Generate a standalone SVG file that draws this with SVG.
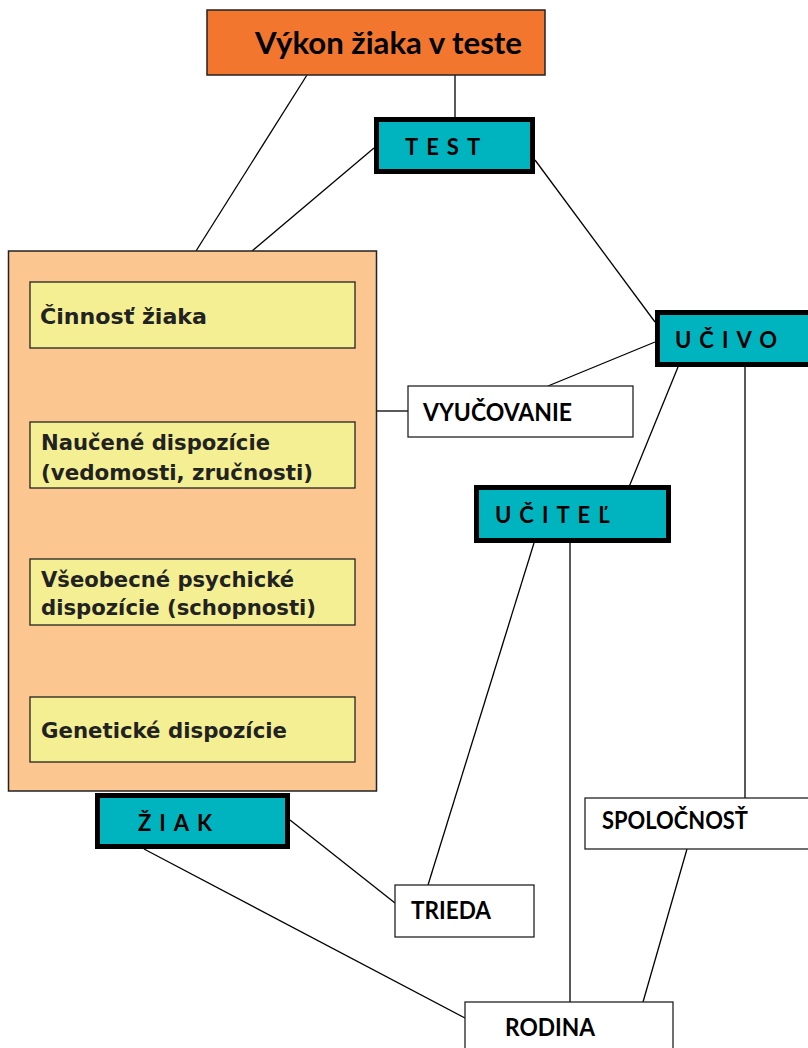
<svg xmlns="http://www.w3.org/2000/svg" width="808" height="1048" viewBox="0 0 808 1048">
<style>
.conn line{stroke:#000;stroke-width:1.3;fill:none}
.teal{fill:#00B4BF;stroke:#000;stroke-width:5}
.white{fill:#fff;stroke:#222;stroke-width:1.3}
.yel{fill:#F3EF92;stroke:#222;stroke-width:1.3}
.cal{font-family:Lato,"Open Sans","Liberation Sans",sans-serif;font-weight:bold;fill:#000}
.tah{font-family:"DejaVu Sans","Liberation Sans",sans-serif;font-weight:bold;fill:#222;font-size:22px}
.sp{font-size:22px}
.wt{font-size:25px}
</style>
<rect width="808" height="1048" fill="#fff"/>
<g class="conn">
<line x1="455" y1="75" x2="455" y2="117"/>
<line x1="307" y1="75" x2="196" y2="251"/>
<line x1="374" y1="148" x2="252" y2="251"/>
<line x1="535" y1="160" x2="655" y2="322"/>
<line x1="655" y1="342" x2="548" y2="386"/>
<line x1="376" y1="411" x2="408" y2="411"/>
<line x1="678" y1="367" x2="629" y2="487"/>
<line x1="745" y1="367" x2="745" y2="798"/>
<line x1="534" y1="543" x2="428" y2="885"/>
<line x1="570" y1="543" x2="570" y2="1002"/>
<line x1="687" y1="849" x2="643" y2="1002"/>
<line x1="290" y1="820" x2="395" y2="903"/>
<line x1="144" y1="849" x2="465" y2="1018"/>
</g>
<g id="title">
<rect x="207" y="10" width="338" height="65" fill="#F3762F" stroke="#222" stroke-width="1.5"/>
<text class="cal" x="255" y="54" font-size="31" textLength="267" lengthAdjust="spacingAndGlyphs">Výkon žiaka v teste</text>
</g>
<g id="ziak-box">
<rect x="8.5" y="251" width="368" height="540" fill="#FCC690" stroke="#222" stroke-width="1.5"/>
</g>
<g id="cinnost">
<rect class="yel" x="30" y="282" width="325" height="66"/>
<text class="tah" x="40" y="324" textLength="167" lengthAdjust="spacingAndGlyphs">Činnosť žiaka</text>
</g>
<g id="naucene">
<rect class="yel" x="30" y="422" width="325" height="66"/>
<text class="tah" x="41" y="450" textLength="229" lengthAdjust="spacingAndGlyphs">Naučené dispozície</text>
<text class="tah" x="41" y="480" textLength="272" lengthAdjust="spacingAndGlyphs">(vedomosti, zručnosti)</text>
</g>
<g id="vseobecne">
<rect class="yel" x="30" y="559" width="325" height="66"/>
<text class="tah" x="41" y="587" textLength="253" lengthAdjust="spacingAndGlyphs">Všeobecné psychické</text>
<text class="tah" x="41" y="615" textLength="275" lengthAdjust="spacingAndGlyphs">dispozície (schopnosti)</text>
</g>
<g id="geneticke">
<rect class="yel" x="30" y="697" width="325" height="65"/>
<text class="tah" x="41" y="738" textLength="246" lengthAdjust="spacingAndGlyphs">Genetické dispozície</text>
</g>
<g id="test">
<rect class="teal" x="376.5" y="119.5" width="156" height="52"/>
<text class="cal sp" x="405" y="155" letter-spacing="8">TEST</text>
</g>
<g id="ucivo">
<rect class="teal" x="657.5" y="312.5" width="160" height="52"/>
<text class="cal sp" x="675" y="348" letter-spacing="8">UČIVO</text>
</g>
<g id="ucitel">
<rect class="teal" x="476.5" y="487.5" width="192" height="53"/>
<text class="cal sp" x="495" y="523" letter-spacing="8">UČITEĽ</text>
</g>
<g id="ziak">
<rect class="teal" x="97.5" y="795.5" width="190" height="51"/>
<text class="cal sp" x="138" y="831" letter-spacing="8">ŽIAK</text>
</g>
<g id="vyucovanie">
<rect class="white" x="408" y="386" width="225" height="51"/>
<text class="cal wt" x="423" y="421" textLength="149" lengthAdjust="spacingAndGlyphs">VYUČOVANIE</text>
</g>
<g id="spolocnost">
<rect class="white" x="585" y="798" width="230" height="51"/>
<text class="cal wt" x="602" y="829" textLength="146" lengthAdjust="spacingAndGlyphs">SPOLOČNOSŤ</text>
</g>
<g id="trieda">
<rect class="white" x="395" y="885" width="139" height="52"/>
<text class="cal wt" x="411" y="919" textLength="80" lengthAdjust="spacingAndGlyphs">TRIEDA</text>
</g>
<g id="rodina">
<rect class="white" x="465" y="1002" width="208" height="60"/>
<text class="cal wt" x="505" y="1036" textLength="90" lengthAdjust="spacingAndGlyphs">RODINA</text>
</g>
</svg>
